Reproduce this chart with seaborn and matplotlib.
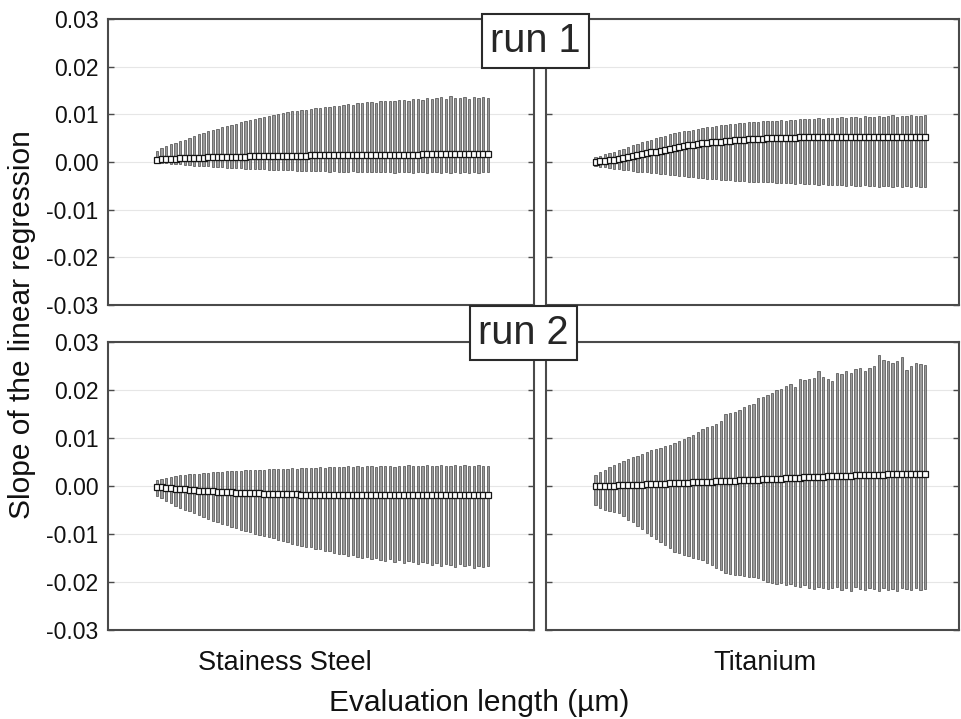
import matplotlib
matplotlib.use("Agg")
import matplotlib.pyplot as plt
import numpy as np
import pandas as pd
import seaborn as sns

sns.set_style("white")
plt.rcParams["font.family"] = ["Liberation Sans", "DejaVu Sans"]

# Slope statistics per evaluation step, in units of 1e-3
# run 1 / stainless steel
r1_steel_median = [0.5,0.6,0.6,0.7,0.7,0.8,0.8,0.8,0.9,0.9,
                   0.9,1.0,1.0,1.0,1.0,1.1,1.1,1.1,1.1,1.1,
                   1.2,1.2,1.2,1.2,1.2,1.2,1.3,1.3,1.3,1.3,
                   1.3,1.3,1.3,1.4,1.4,1.4,1.4,1.4,1.4,1.4,
                   1.4,1.4,1.4,1.5,1.5,1.5,1.5,1.5,1.5,1.5,
                   1.5,1.5,1.5,1.5,1.5,1.5,1.5,1.6,1.6,1.6,
                   1.6,1.6,1.6,1.6,1.6,1.6,1.6,1.6,1.6,1.6,
                   1.6,1.6]
r1_steel_upper = [2.4,2.9,3.3,3.7,4.0,4.4,4.7,5.1,5.4,5.8,
                  6.0,6.4,6.7,6.9,7.3,7.5,7.8,8.0,8.3,8.6,
                  8.8,9.0,9.2,9.5,9.7,9.8,10.1,10.2,10.4,10.6,
                  10.7,10.9,10.9,11.2,11.3,11.3,11.6,11.5,11.8,11.8,
                  12.0,12.1,12.0,12.4,12.3,12.5,12.6,12.4,12.8,12.7,
                  12.9,12.8,13.0,13.1,12.9,13.2,13.3,13.0,13.4,13.2,
                  13.5,13.6,13.3,13.8,13.4,13.5,13.7,13.2,13.6,13.4,
                  13.7,13.5]
r1_steel_lower = [-0.1,-0.2,-0.3,-0.4,-0.5,-0.5,-0.6,-0.7,-0.8,-0.8,
                  -0.9,-0.9,-1.0,-1.1,-1.1,-1.2,-1.2,-1.3,-1.3,-1.4,
                  -1.4,-1.5,-1.5,-1.5,-1.6,-1.6,-1.6,-1.7,-1.7,-1.7,
                  -1.8,-1.8,-1.8,-1.9,-1.8,-1.9,-1.9,-2.0,-1.9,-2.0,
                  -2.0,-2.1,-1.9,-2.1,-2.0,-2.2,-2.0,-2.1,-2.2,-2.0,
                  -2.1,-2.3,-2.1,-2.2,-2.0,-2.3,-2.2,-2.1,-2.4,-2.2,
                  -2.1,-2.3,-2.2,-2.4,-2.1,-2.3,-2.2,-2.4,-2.1,-2.3,
                  -2.2,-2.2]

# run 1 / titanium
r1_ti_median = [0.1,0.2,0.3,0.4,0.5,0.7,0.8,1.0,1.2,1.4,
                1.6,1.8,2.0,2.2,2.4,2.6,2.8,3.0,3.1,3.3,
                3.5,3.6,3.7,3.9,4.0,4.1,4.2,4.3,4.4,4.5,
                4.6,4.6,4.7,4.8,4.8,4.9,4.9,5.0,5.0,5.0,
                5.1,5.1,5.1,5.1,5.2,5.2,5.2,5.2,5.2,5.2,
                5.2,5.3,5.3,5.3,5.3,5.3,5.3,5.3,5.3,5.3,
                5.3,5.3,5.3,5.3,5.3,5.3,5.3,5.3,5.3,5.3,
                5.3,5.3]
r1_ti_upper = [1.0,1.3,1.6,1.9,2.2,2.5,2.8,3.2,3.5,3.8,
               4.1,4.4,4.7,5.0,5.3,5.5,5.8,6.0,6.2,6.4,
               6.6,6.8,7.0,7.1,7.3,7.4,7.6,7.7,7.8,7.9,
               8.0,8.1,8.2,8.3,8.4,8.4,8.5,8.6,8.5,8.7,
               8.8,8.7,8.9,8.9,9.0,9.0,9.1,9.0,9.2,9.1,
               9.2,9.3,9.2,9.4,9.3,9.4,9.5,9.3,9.6,9.4,
               9.5,9.7,9.5,9.6,9.8,9.5,9.7,9.6,9.8,9.7,
               9.6,9.8]
r1_ti_lower = [-0.9,-1.0,-1.1,-1.3,-1.4,-1.5,-1.6,-1.7,-1.8,-2.0,
               -2.1,-2.2,-2.3,-2.4,-2.5,-2.6,-2.7,-2.8,-2.9,-3.0,
               -3.1,-3.2,-3.3,-3.4,-3.5,-3.5,-3.6,-3.7,-3.8,-3.8,
               -3.9,-4.0,-4.0,-4.1,-4.1,-4.2,-4.2,-4.3,-4.3,-4.4,
               -4.4,-4.5,-4.5,-4.6,-4.5,-4.7,-4.6,-4.7,-4.8,-4.7,
               -4.8,-4.9,-4.8,-4.9,-5.0,-4.9,-5.0,-5.1,-4.9,-5.1,
               -5.0,-5.2,-5.1,-5.0,-5.2,-5.1,-5.3,-5.0,-5.2,-5.1,
               -5.3,-5.2]

# run 2 / stainless steel
r2_steel_median = [-0.2,-0.3,-0.4,-0.5,-0.6,-0.7,-0.7,-0.8,-0.9,-1.0,
                   -1.0,-1.1,-1.1,-1.2,-1.2,-1.3,-1.3,-1.4,-1.4,-1.4,
                   -1.5,-1.5,-1.5,-1.6,-1.6,-1.6,-1.7,-1.7,-1.7,-1.7,
                   -1.7,-1.8,-1.8,-1.8,-1.8,-1.8,-1.8,-1.9,-1.9,-1.9,
                   -1.9,-1.9,-1.9,-1.9,-1.9,-1.9,-1.9,-1.9,-1.9,-1.9,
                   -1.9,-1.9,-1.9,-1.9,-1.9,-1.9,-1.9,-1.9,-1.9,-1.9,
                   -1.9,-1.9,-1.9,-1.9,-1.9,-1.9,-1.9,-1.9,-1.9,-1.9,
                   -1.9,-1.9]
r2_steel_upper = [1.2,1.5,1.7,1.9,2.0,2.2,2.3,2.4,2.5,2.6,
                  2.7,2.8,2.9,2.9,3.0,3.1,3.1,3.2,3.2,3.3,
                  3.3,3.4,3.4,3.4,3.5,3.5,3.6,3.5,3.6,3.7,
                  3.6,3.7,3.8,3.7,3.8,3.9,3.8,4.0,3.9,3.9,
                  4.0,4.1,3.9,4.1,4.0,4.1,4.2,4.0,4.1,4.2,
                  4.1,4.0,4.2,4.1,4.3,4.2,4.1,4.2,4.3,4.1,
                  4.2,4.3,4.2,4.1,4.3,4.2,4.3,4.1,4.2,4.3,
                  4.2,4.2]
r2_steel_lower = [-2.0,-2.6,-3.1,-3.6,-4.1,-4.5,-4.9,-5.3,-5.7,-6.1,
                  -6.5,-6.9,-7.2,-7.6,-7.9,-8.2,-8.6,-8.8,-9.1,-9.4,
                  -9.6,-9.9,-10.2,-10.4,-10.7,-10.9,-11.2,-11.5,-11.7,-12.0,
                  -12.2,-12.4,-12.7,-12.8,-13.1,-13.2,-13.5,-13.6,-13.9,-14.1,
                  -14.2,-14.5,-14.3,-14.7,-15.0,-14.8,-15.2,-15.0,-15.4,-15.6,
                  -15.3,-15.8,-15.5,-16.0,-15.7,-15.9,-16.3,-15.8,-16.1,-16.4,
                  -16.0,-16.6,-16.2,-16.5,-16.8,-16.3,-16.7,-16.5,-17.0,-16.6,
                  -16.9,-16.7]

# run 2 / titanium
r2_ti_median = [0.0,0.0,0.1,0.1,0.1,0.2,0.2,0.2,0.3,0.3,
                0.3,0.4,0.4,0.4,0.5,0.5,0.6,0.6,0.6,0.7,
                0.7,0.8,0.8,0.8,0.9,0.9,1.0,1.0,1.0,1.1,
                1.1,1.2,1.2,1.3,1.3,1.3,1.4,1.4,1.5,1.5,
                1.5,1.6,1.6,1.7,1.7,1.8,1.8,1.8,1.9,1.9,
                2.0,2.0,2.0,2.1,2.1,2.1,2.2,2.2,2.2,2.3,
                2.3,2.3,2.3,2.4,2.4,2.4,2.4,2.5,2.5,2.5,
                2.5,2.5]
r2_ti_upper = [2.3,2.9,3.4,3.9,4.4,4.8,5.2,5.6,6.0,6.3,
               6.7,7.0,7.4,7.7,8.0,8.3,8.6,9.0,9.4,9.8,
               10.2,10.7,11.2,11.9,12.3,12.6,13.0,13.6,15.0,15.3,
               15.5,15.9,16.4,16.8,17.1,18.3,18.6,18.9,19.4,20.1,
               20.3,20.9,21.2,20.6,22.3,22.1,22.3,22.6,24.0,22.8,
               22.2,21.9,23.6,23.3,23.9,23.6,24.3,24.6,24.0,24.5,
               24.9,27.3,26.2,26.1,25.7,26.0,26.8,24.2,25.1,25.7,
               25.5,25.3]
r2_ti_lower = [-4.0,-4.5,-5.0,-5.2,-5.4,-5.6,-6.3,-7.0,-7.6,-8.3,
               -9.0,-9.8,-10.4,-11.0,-11.6,-12.2,-12.9,-13.7,-14.0,-14.4,
               -14.6,-14.9,-15.2,-15.4,-16.0,-16.5,-17.0,-17.6,-18.1,-18.4,
               -18.5,-18.6,-18.8,-18.9,-19.0,-19.2,-19.6,-20.0,-20.2,-20.4,
               -20.3,-20.6,-20.5,-20.8,-21.0,-20.7,-21.2,-21.4,-21.0,-21.3,
               -21.5,-21.2,-21.0,-21.6,-21.3,-21.8,-21.1,-21.4,-21.7,-21.2,
               -21.5,-21.9,-21.3,-21.6,-21.4,-21.8,-21.2,-21.5,-21.7,-21.3,
               -21.6,-21.4]

materials = ["Stainess Steel", "Titanium"]
runs = ["run 1", "run 2"]
y_ticks = [-0.03, -0.02, -0.01, 0.0, 0.01, 0.02, 0.03]
y_tick_labels = ["-0.03", "-0.02", "-0.01", "0.00", "0.01", "0.02", "0.03"]

series = {
    ("run 1", "Stainess Steel"): (r1_steel_median, r1_steel_lower, r1_steel_upper),
    ("run 1", "Titanium"): (r1_ti_median, r1_ti_lower, r1_ti_upper),
    ("run 2", "Stainess Steel"): (r2_steel_median, r2_steel_lower, r2_steel_upper),
    ("run 2", "Titanium"): (r2_ti_median, r2_ti_lower, r2_ti_upper),
}

frames = []
for (run, mat), (med, lo, hi) in series.items():
    frames.append(pd.DataFrame({
        "run": run, "material": mat,
        "step": np.arange(1, len(med) + 1),
        "median": np.array(med) * 1e-3,
        "lower": np.array(lo) * 1e-3,
        "upper": np.array(hi) * 1e-3,
    }))
df = pd.concat(frames, ignore_index=True)

W, H = 962, 719
fig = plt.figure(figsize=(W / 100, H / 100), dpi=100)

def rect(x0, y0, x1, y1):
    return [x0 / W, 1 - y1 / H, (x1 - x0) / W, (y1 - y0) / H]

panel_px = {
    ("run 1", "Stainess Steel"): (108, 19, 534, 305),
    ("run 1", "Titanium"): (546, 19, 959, 305),
    ("run 2", "Stainess Steel"): (108, 342, 534, 630),
    ("run 2", "Titanium"): (546, 342, 959, 630),
}
x_limits = {"Stainess Steel": (-9.5, 81.9), "Titanium": (-9.7, 79.3)}
spine_col = "#4a4a4a"

for (run, mat), box in panel_px.items():
    ax = fig.add_axes(rect(*box))
    d = df[(df["run"] == run) & (df["material"] == mat)]
    ax.bar(d["step"], d["upper"] - d["lower"], bottom=d["lower"], width=0.5,
           color="#9a9a9a", edgecolor="#3a3a3a", linewidth=0.45, zorder=2)
    sns.lineplot(x=d["step"].values, y=d["median"].values, ax=ax, color="#151515",
                 linewidth=1.3, marker="s", markersize=4.6, markerfacecolor="white",
                 markeredgecolor="#151515", markeredgewidth=0.9, zorder=3)
    ax.set_xlim(*x_limits[mat])
    ax.set_ylim(-0.03, 0.03)
    ax.set_xticks([])
    ax.set_yticks(y_ticks)
    ax.set_xlabel("")
    ax.set_ylabel("")
    ax.grid(axis="y", color="#e6e6e6", linewidth=0.8)
    ax.set_axisbelow(True)
    for s in ax.spines.values():
        s.set_color(spine_col)
        s.set_linewidth(1.5)
    first_col = mat == materials[0]
    ax.tick_params(axis="y", direction="in", length=4, width=1, color=spine_col,
                   left=True, right=True, labelleft=first_col, labelsize=16.5,
                   pad=7, labelcolor="#111111")
    if first_col:
        ax.set_yticklabels(y_tick_labels)

# run labels straddling the panels
box_style = dict(boxstyle="square,pad=0.2", facecolor="white", edgecolor="#2a2a2a", linewidth=1.5)
fig.text(535.5 / W, 1 - 41 / H, "run 1", fontsize=28.5, ha="center", va="center",
         bbox=box_style, zorder=10)
fig.text(523.5 / W, 1 - 333 / H, "run 2", fontsize=28.5, ha="center", va="center",
         bbox=box_style, zorder=10)

fig.text(285 / W, 1 - 663 / H, materials[0], fontsize=19.5, ha="center", va="center", color="#111111")
fig.text(765 / W, 1 - 663 / H, materials[1], fontsize=19.5, ha="center", va="center", color="#111111")
fig.text(479 / W, 1 - 703 / H, "Evaluation length (\u00b5m)", fontsize=21.5, ha="center",
         va="center", color="#111111")
fig.text(22 / W, 1 - 325 / H, "Slope of the linear regression", fontsize=21.5, rotation=90,
         ha="center", va="center", color="#111111")

fig.savefig("out.png", dpi=100)
